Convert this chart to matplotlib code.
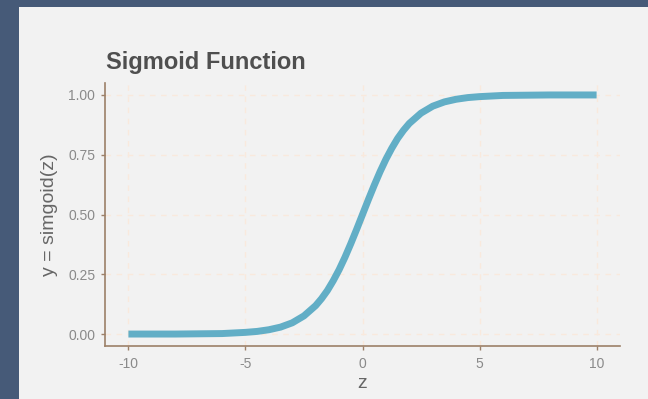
import matplotlib
matplotlib.use("Agg")
import matplotlib.pyplot as plt

# values
z = [-10, -9, -8, -7, -6, -5, -4.5, -4, -3.5, -3, -2.5, -2, -1.75, -1.5, -1.25,
     -1, -0.75, -0.5, -0.25, 0, 0.25, 0.5, 0.75, 1, 1.25, 1.5, 1.75, 2, 2.5,
     3, 3.5, 4, 4.5, 5, 6, 7, 8, 9, 10]
y = [0.000, 0.000, 0.000, 0.001, 0.002, 0.007, 0.011, 0.018, 0.029, 0.047,
     0.076, 0.119, 0.148, 0.182, 0.223, 0.269, 0.321, 0.378, 0.438, 0.500,
     0.562, 0.622, 0.679, 0.731, 0.777, 0.818, 0.852, 0.881, 0.924, 0.953,
     0.971, 0.982, 0.989, 0.993, 0.998, 0.999, 1.000, 1.000, 1.000]
x_ticks = [-10, -5, 0, 5, 10]
x_labels = ["-10", "-5", "0", "5", "10"]
y_ticks = [0, 0.25, 0.5, 0.75, 1.0]
y_labels = ["0.00", "0.25", "0.50", "0.75", "1.00"]

plt.rcParams["font.family"] = ["Liberation Sans", "DejaVu Sans"]

fig = plt.figure(figsize=(6.48, 3.99), dpi=100)
fig.patch.set_facecolor("#465a78")
# light panel behind everything
panel = plt.Rectangle((19 / 648, 0), 1, 1 - 7 / 399, transform=fig.transFigure,
                      facecolor="#f2f2f2", edgecolor="none", zorder=-10)
fig.add_artist(panel)

ax = fig.add_axes([105 / 648, 53 / 399, 515 / 648, 263 / 399])
ax.set_zorder(1)
ax.set_facecolor("#f2f2f2")

ax.plot(z, y, color="#62aec6", linewidth=5, solid_capstyle="butt",
        solid_joinstyle="round", zorder=3)

ax.set_xlim(-11, 11)
ax.set_ylim(-0.05, 1.05)
ax.set_xticks(x_ticks)
ax.set_xticklabels(x_labels)
ax.set_yticks(y_ticks)
ax.set_yticklabels(y_labels)

ax.grid(True, color="#f9e9dd", linestyle=(0, (4, 4)), linewidth=1.0, zorder=1)
ax.set_axisbelow(True)

spine_col = "#9c8068"
for s in ["top", "right"]:
    ax.spines[s].set_visible(False)
for s in ["left", "bottom"]:
    ax.spines[s].set_color(spine_col)
    ax.spines[s].set_linewidth(1.2)

ax.tick_params(axis="both", colors=spine_col, length=3, width=1.0,
               labelcolor="#8a8a8a", labelsize=10)
ax.tick_params(axis="x", pad=5)
ax.tick_params(axis="y", pad=4)

ax.set_xlabel("z", color="#666666", fontsize=14, labelpad=3)
ax.set_ylabel("y = simgoid(z)", color="#666666", fontsize=14, labelpad=7)

fig.text(106 / 648, 1 - 69 / 399, "Sigmoid Function", fontsize=17,
         fontweight="bold", color="#4f4f4f", ha="left", va="baseline")

fig.savefig("out.png", dpi=100, facecolor=fig.get_facecolor())
